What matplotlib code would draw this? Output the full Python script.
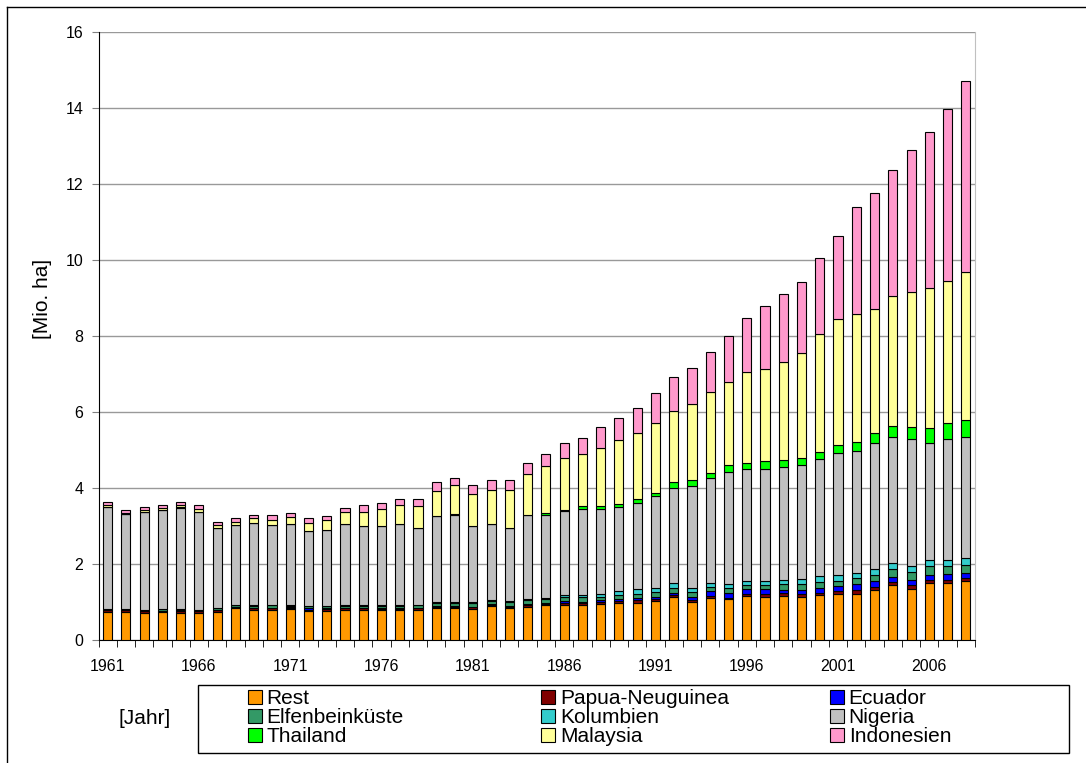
import matplotlib.pyplot as plt
from matplotlib.lines import Line2D
from matplotlib.patches import Rectangle
import numpy as np

plt.rcParams['font.family'] = ['Liberation Sans', 'DejaVu Sans']

years = list(range(1961, 2009))

# Flaeche in Mio. ha je Land (Segmente, von unten nach oben)
rest = [0.75, 0.75, 0.72, 0.74, 0.72, 0.72, 0.75, 0.83, 0.80, 0.80,
        0.81, 0.77, 0.77, 0.80, 0.80, 0.78, 0.78, 0.80, 0.83, 0.83,
        0.82, 0.89, 0.83, 0.86, 0.91, 0.93, 0.93, 0.95, 0.98, 0.98,
        1.02, 1.12, 1.01, 1.11, 1.07, 1.16, 1.13, 1.16, 1.13, 1.19,
        1.21, 1.21, 1.32, 1.44, 1.34, 1.50, 1.50, 1.54]
papua = [0.03, 0.03, 0.04, 0.03, 0.05, 0.04, 0.04, 0.03, 0.04, 0.04,
         0.04, 0.03, 0.05, 0.03, 0.03, 0.04, 0.04, 0.04, 0.05, 0.05,
         0.05, 0.04, 0.05, 0.06, 0.04, 0.05, 0.05, 0.04, 0.05, 0.07,
         0.06, 0.06, 0.03, 0.05, 0.04, 0.06, 0.07, 0.07, 0.08, 0.05,
         0.07, 0.11, 0.08, 0.09, 0.10, 0.08, 0.09, 0.08]
ecuador = [0.00, 0.00, 0.00, 0.00, 0.01, 0.00, 0.01, 0.01, 0.01, 0.01,
           0.01, 0.05, 0.02, 0.01, 0.01, 0.01, 0.01, 0.01, 0.01, 0.01,
           0.01, 0.01, 0.02, 0.02, 0.03, 0.04, 0.03, 0.05, 0.06, 0.06,
           0.04, 0.05, 0.09, 0.12, 0.12, 0.12, 0.13, 0.09, 0.11, 0.13,
           0.13, 0.16, 0.15, 0.12, 0.15, 0.14, 0.15, 0.14]
elfenbein = [0.03, 0.03, 0.03, 0.04, 0.04, 0.03, 0.05, 0.05, 0.05, 0.06,
             0.04, 0.04, 0.05, 0.06, 0.06, 0.07, 0.07, 0.07, 0.08, 0.08,
             0.09, 0.09, 0.09, 0.10, 0.09, 0.10, 0.11, 0.08, 0.09, 0.10,
             0.14, 0.15, 0.13, 0.11, 0.14, 0.12, 0.13, 0.16, 0.16, 0.15,
             0.14, 0.14, 0.16, 0.22, 0.19, 0.24, 0.22, 0.22]
kolumbien = [0.00, 0.00, 0.00, 0.00, 0.00, 0.00, 0.00, 0.01, 0.01, 0.01,
             0.01, 0.01, 0.01, 0.01, 0.01, 0.01, 0.01, 0.01, 0.02, 0.02,
             0.02, 0.02, 0.03, 0.04, 0.04, 0.07, 0.07, 0.09, 0.10, 0.13,
             0.11, 0.11, 0.11, 0.12, 0.11, 0.10, 0.10, 0.11, 0.12, 0.16,
             0.16, 0.15, 0.15, 0.16, 0.18, 0.14, 0.14, 0.17]
nigeria = [2.69, 2.51, 2.59, 2.60, 2.66, 2.59, 2.09, 2.09, 2.17, 2.10,
           2.14, 1.96, 2.00, 2.14, 2.09, 2.09, 2.14, 2.01, 2.27, 2.31,
           2.01, 2.00, 1.92, 2.20, 2.19, 2.20, 2.26, 2.24, 2.22, 2.26,
           2.42, 2.52, 2.68, 2.74, 2.95, 2.95, 2.95, 2.96, 3.01, 3.09,
           3.20, 3.21, 3.33, 3.30, 3.34, 3.09, 3.18, 3.18]
thailand = [0.00, 0.00, 0.00, 0.00, 0.01, 0.00, 0.00, 0.00, 0.00, 0.00,
            0.00, 0.00, 0.00, 0.00, 0.00, 0.00, 0.00, 0.00, 0.01, 0.01,
            0.01, 0.01, 0.01, 0.01, 0.04, 0.02, 0.07, 0.07, 0.09, 0.10,
            0.07, 0.14, 0.16, 0.15, 0.17, 0.16, 0.19, 0.18, 0.18, 0.19,
            0.21, 0.24, 0.27, 0.31, 0.31, 0.39, 0.42, 0.45]
malaysia = [0.05, 0.01, 0.03, 0.06, 0.05, 0.06, 0.08, 0.09, 0.12, 0.15,
            0.19, 0.23, 0.26, 0.33, 0.38, 0.44, 0.50, 0.59, 0.65, 0.76,
            0.82, 0.90, 1.00, 1.09, 1.23, 1.37, 1.37, 1.53, 1.68, 1.74,
            1.85, 1.87, 2.01, 2.13, 2.20, 2.37, 2.43, 2.58, 2.77, 3.08,
            3.32, 3.37, 3.25, 3.40, 3.56, 3.69, 3.74, 3.91]
indonesien = [0.07, 0.08, 0.09, 0.08, 0.08, 0.10, 0.09, 0.10, 0.09, 0.12,
              0.10, 0.13, 0.10, 0.10, 0.17, 0.16, 0.17, 0.19, 0.23, 0.18,
              0.25, 0.24, 0.25, 0.28, 0.33, 0.40, 0.43, 0.55, 0.56, 0.67,
              0.80, 0.91, 0.95, 1.04, 1.19, 1.43, 1.65, 1.80, 1.86, 2.01,
              2.19, 2.80, 3.04, 3.32, 3.72, 4.10, 4.53, 5.02]

series = [
    ("Rest", rest, "#FF9900"),
    ("Papua-Neuguinea", papua, "#800000"),
    ("Ecuador", ecuador, "#0000FF"),
    ("Elfenbeinküste", elfenbein, "#339966"),
    ("Kolumbien", kolumbien, "#33CCCC"),
    ("Nigeria", nigeria, "#C0C0C0"),
    ("Thailand", thailand, "#00FF00"),
    ("Malaysia", malaysia, "#FFFF99"),
    ("Indonesien", indonesien, "#FF99CC"),
]

W, H = 1086, 763
fig = plt.figure(figsize=(W / 100, H / 100), dpi=100)
ax = fig.add_axes([98.5 / W, 1 - 640 / H, (975 - 98.5) / W, (640 - 32) / H])

x = np.arange(len(years))
bottom = np.zeros(len(years))
handles = {}
for name, vals, col in series:
    vals = np.array(vals)
    bars = ax.bar(x, vals, 0.5, bottom=bottom, color=col, edgecolor="black",
                  linewidth=0.8, label=name, zorder=3)
    handles[name] = bars
    bottom += vals

ax.set_xlim(-0.5, len(years) - 0.5)
ax.set_ylim(0, 16)
ax.set_yticks(range(0, 17, 2))
ax.yaxis.grid(True, color="#999999", linewidth=1.0, zorder=0)
ax.tick_params(axis="y", direction="out", length=5, labelsize=11.5, pad=6,
               color="#808080")

ax.set_xticks(x[::5])
ax.set_xticklabels([str(y) for y in years[::5]])
ax.set_xticks(np.arange(-0.5, len(years), 1), minor=True)
ax.tick_params(axis="x", which="major", length=0, labelsize=11.5, pad=14)
ax.tick_params(axis="x", which="minor", direction="out", length=5, color="black")

ax.spines["top"].set_visible(False)
ax.spines["right"].set_color("#c0c0c0")
ax.spines["left"].set_color("black")
ax.spines["bottom"].set_color("black")

fig.text(43 / W, 1 - 299 / H, "[Mio. ha]", rotation=90, fontsize=15,
         ha="center", va="center")
fig.text(118 / W, 1 - 719 / H, "[Jahr]", fontsize=15, ha="left", va="center")

# Legende: drei Spalten, zeilenweise wie im Original
columns = [
    (248, ["Rest", "Elfenbeinküste", "Thailand"]),
    (541, ["Papua-Neuguinea", "Kolumbien", "Malaysia"]),
    (830, ["Ecuador", "Nigeria", "Indonesien"]),
]
for left, names in columns:
    fig.legend([handles[n] for n in names], names, loc="upper left",
               bbox_to_anchor=(left / W, 1 - 689 / H), frameon=False,
               fontsize=15, handlelength=0.65, handleheight=0.65,
               handletextpad=0.25, labelspacing=0.0, borderpad=0,
               borderaxespad=0)
fig.add_artist(Rectangle((198 / W, 1 - 753 / H), (1069 - 198) / W, 68 / H,
                         fill=False, edgecolor="black", lw=1,
                         transform=fig.transFigure))

# Rahmen des Diagrammbereichs
fig.add_artist(Line2D([7 / W, 7 / W], [0, 1 - 7 / H], color="black", lw=1))
fig.add_artist(Line2D([7 / W, 1], [1 - 7 / H, 1 - 7 / H], color="black", lw=1))

fig.savefig("out.png", dpi=100)
